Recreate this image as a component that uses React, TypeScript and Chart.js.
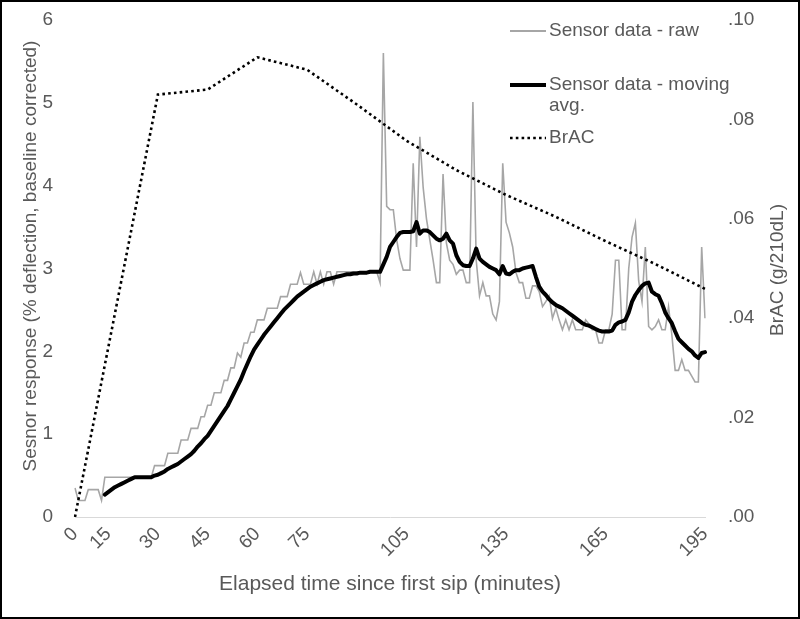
import React, { useEffect, useRef } from 'react';
import { Chart, registerables } from 'chart.js';

Chart.register(...registerables);

// Category times (minutes). First 15 min sampled every 1.5 min, then every minute.
const earlyTimes = [0, 1.5, 3, 4.5, 6, 7.5, 9, 10.5, 12, 13.5];
const lateTimes: number[] = [];
for (let m = 15; m <= 195; m++) lateTimes.push(m);
const times = [...earlyTimes, ...lateTimes];

const shownTicks = [0, 15, 30, 45, 60, 75, 105, 135, 165, 195];

// Sensor data - raw (one value per category)
const rawValues = [
  0.35, 0.20, 0.20, 0.20, 0.33, 0.33, 0.33, 0.33, 0.20, 0.48, // 0-9
  0.48, 0.48, 0.48, 0.48, 0.48, 0.48, 0.48, 0.48, 0.48, 0.48, // 10-19
  0.48, 0.48, 0.48, 0.48, 0.62, 0.62, 0.62, 0.62, 0.77, 0.77, // 20-29
  0.77, 0.77, 0.93, 0.93, 0.93, 1.07, 1.07, 1.07, 1.21, 1.21, // 30-39
  1.35, 1.35, 1.50, 1.50, 1.50, 1.65, 1.65, 1.80, 1.80, 1.98, // 40-49
  1.93, 2.10, 2.10, 2.23, 2.23, 2.38, 2.38, 2.38, 2.52, 2.52, // 50-59
  2.52, 2.52, 2.66, 2.66, 2.66, 2.81, 2.81, 2.81, 2.95, 2.81, // 60-69
  2.81, 2.81, 2.96, 2.81, 2.96, 2.81, 2.96, 2.96, 2.81, 2.96, // 70-79
  2.96, 2.96, 2.96, 2.96, 2.96, 2.96, 2.96, 2.96, 2.96, 2.96, // 80-89
  2.96, 2.96, 2.83, 5.60, 3.75, 3.71, 3.71, 3.35, 3.12, 2.98, // 90-99
  2.98, 2.98, 4.27, 3.26, 4.59, 3.98, 3.60, 3.35, 3.10, 2.83, // 100-109
  2.83, 4.14, 3.31, 3.10, 3.05, 2.93, 2.98, 2.98, 2.83, 2.83, // 110-119
  5.01, 3.10, 2.67, 2.83, 2.67, 2.67, 2.45, 2.38, 2.60, 4.27, // 120-129
  3.56, 3.43, 3.26, 2.95, 2.83, 2.83, 2.64, 2.64, 2.79, 2.79, // 130-139
  2.72, 2.54, 2.60, 2.67, 2.40, 2.52, 2.38, 2.26, 2.38, 2.26, // 140-149
  2.38, 2.26, 2.26, 2.26, 2.38, 2.33, 2.26, 2.26, 2.10, 2.10, // 150-159
  2.26, 2.26, 2.45, 3.10, 3.10, 2.26, 2.26, 3.00, 3.38, 3.55, // 160-169
  2.85, 2.60, 3.26, 2.30, 2.26, 2.30, 2.38, 2.26, 2.26, 2.54, // 170-179
  2.20, 1.77, 1.77, 1.90, 1.77, 1.77, 1.70, 1.63, 1.63, 3.26, // 180-189
  2.40, // 190
];

// Sensor data - moving average
const movingAvgValues: (number | null)[] = [
  null, null, null, null, null, null, null, null, null, 0.27, // 0-9
  0.30, 0.33, 0.36, 0.38, 0.40, 0.42, 0.44, 0.46, 0.48, 0.48, // 10-19
  0.48, 0.48, 0.48, 0.48, 0.50, 0.51, 0.53, 0.55, 0.58, 0.60, // 20-29
  0.62, 0.64, 0.67, 0.70, 0.73, 0.76, 0.80, 0.85, 0.89, 0.94, // 30-39
  0.98, 1.04, 1.10, 1.16, 1.22, 1.28, 1.34, 1.42, 1.50, 1.58, // 40-49
  1.66, 1.76, 1.85, 1.94, 2.02, 2.08, 2.14, 2.20, 2.25, 2.30, // 50-59
  2.35, 2.40, 2.45, 2.50, 2.54, 2.58, 2.62, 2.66, 2.69, 2.72, // 60-69
  2.75, 2.78, 2.80, 2.82, 2.84, 2.86, 2.87, 2.88, 2.89, 2.90, // 70-79
  2.91, 2.92, 2.93, 2.93, 2.94, 2.94, 2.95, 2.95, 2.95, 2.96, // 80-89
  2.96, 2.96, 2.96, 3.05, 3.14, 3.26, 3.32, 3.38, 3.43, 3.44, // 90-99
  3.44, 3.44, 3.45, 3.56, 3.42, 3.46, 3.46, 3.44, 3.40, 3.36, // 100-109
  3.34, 3.36, 3.42, 3.34, 3.30, 3.16, 3.08, 3.04, 3.03, 3.03, // 110-119
  3.12, 3.24, 3.12, 3.08, 3.05, 3.02, 3.00, 2.98, 2.93, 3.03, // 120-129
  2.94, 2.93, 2.96, 2.98, 2.98, 3.00, 3.01, 3.02, 3.03, 2.90, // 130-139
  2.78, 2.72, 2.68, 2.63, 2.59, 2.56, 2.54, 2.52, 2.49, 2.46, // 140-149
  2.43, 2.40, 2.37, 2.34, 2.32, 2.31, 2.29, 2.27, 2.25, 2.24, // 150-159
  2.24, 2.24, 2.25, 2.32, 2.35, 2.36, 2.38, 2.47, 2.60, 2.68, // 160-169
  2.74, 2.79, 2.82, 2.83, 2.72, 2.69, 2.67, 2.58, 2.47, 2.40, // 170-179
  2.34, 2.24, 2.15, 2.11, 2.07, 2.03, 2.00, 1.95, 1.92, 1.98, // 180-189
  1.99, // 190
];

// BrAC measurements
const bracTimes = [0, 30, 45, 60, 75, 90, 105, 120, 135, 150, 165, 180, 195];
const bracValues = [0, 0.085, 0.086, 0.0925, 0.09, 0.083, 0.0757, 0.0698, 0.0648, 0.0604, 0.0555, 0.0509, 0.0459];

const FONT = '"Liberation Sans", Arial, sans-serif';
const TEXT = '#595959';
const RAW_COLOR = '#A6A6A6';

export default function App() {
  const canvasRef = useRef<HTMLCanvasElement | null>(null);

  useEffect(() => {
    if (!canvasRef.current) return;
    const bracData = times.map((t) => {
      const i = bracTimes.indexOf(t);
      return i >= 0 ? bracValues[i] : null;
    });

    const customDraw = {
      id: 'customDraw',
      afterDraw(chart: any) {
        const ctx = chart.ctx as CanvasRenderingContext2D;
        ctx.save();
        ctx.fillStyle = TEXT;
        ctx.font = `19px ${FONT}`;
        ctx.textAlign = 'center';
        ctx.textBaseline = 'middle';
        ctx.save();
        ctx.translate(31, 256);
        ctx.rotate(-Math.PI / 2);
        ctx.fillText('Sesnor response (% deflection, baseline corrected)', 0, 0);
        ctx.restore();
        ctx.save();
        ctx.translate(778, 270);
        ctx.rotate(-Math.PI / 2);
        ctx.fillText('BrAC (g/210dL)', 0, 0);
        ctx.restore();

        // legend
        const items = [
          { lines: ['Sensor data - raw'], y: 31, color: RAW_COLOR, width: 2, dash: [] as number[] },
          { lines: ['Sensor data - moving', 'avg.'], y: 85, color: '#000', width: 4, dash: [] as number[] },
          { lines: ['BrAC'], y: 138, color: '#000', width: 2.6, dash: [2.6, 3.2] },
        ];
        ctx.textAlign = 'left';
        for (const it of items) {
          ctx.beginPath();
          ctx.strokeStyle = it.color;
          ctx.lineWidth = it.width;
          ctx.setLineDash(it.dash);
          ctx.moveTo(510, it.y);
          ctx.lineTo(546, it.y);
          ctx.stroke();
          ctx.setLineDash([]);
          it.lines.forEach((ln, k) => ctx.fillText(ln, 549, it.y + k * 21));
        }
        ctx.restore();
      },
    };

    const fixVertical = (width: number) => (s: any) => {
      s.width = width;
      s.paddingTop = 0;
      s.paddingBottom = 0;
    };

    const chart = new Chart(canvasRef.current, {
      type: 'line',
      data: {
        labels: times.map(String),
        datasets: [
          {
            label: 'Sensor data - raw',
            data: rawValues,
            borderColor: RAW_COLOR,
            borderWidth: 1.6,
            pointRadius: 0,
            tension: 0,
            yAxisID: 'y',
            order: 3,
          },
          {
            label: 'Sensor data - moving avg.',
            data: movingAvgValues,
            borderColor: '#000000',
            borderWidth: 4,
            borderJoinStyle: 'round',
            borderCapStyle: 'round',
            pointRadius: 0,
            tension: 0,
            yAxisID: 'y',
            order: 2,
          },
          {
            label: 'BrAC',
            data: bracData,
            borderColor: '#000000',
            borderWidth: 2.6,
            borderDash: [2.6, 3.2],
            spanGaps: true,
            pointRadius: 0,
            tension: 0,
            yAxisID: 'y2',
            order: 1,
          },
        ],
      },
      options: {
        animation: false,
        responsive: false,
        maintainAspectRatio: false,
        layout: { padding: { top: 20, left: 0, right: 0, bottom: 0 } },
        plugins: {
          legend: { display: false },
          tooltip: { enabled: false },
        },
        scales: {
          x: {
            type: 'category',
            offset: false,
            grid: { display: false, drawTicks: false },
            border: { display: true, color: '#D9D9D9', width: 1 },
            ticks: {
              autoSkip: false,
              minRotation: 45,
              maxRotation: 45,
              padding: 6,
              color: TEXT,
              font: { family: FONT, size: 19 },
              callback: (_v: any, idx: number) => (shownTicks.includes(times[idx]) ? String(times[idx]) : ''),
            },
            title: {
              display: true,
              text: 'Elapsed time since first sip (minutes)',
              color: TEXT,
              font: { family: FONT, size: 21 },
              padding: { top: 0, bottom: 22 },
            },
            afterFit: (s: any) => {
              s.height = 102;
            },
          },
          y: {
            position: 'left',
            min: 0,
            max: 6,
            grid: { display: false, drawTicks: false },
            border: { display: false },
            ticks: {
              stepSize: 1,
              padding: 22,
              color: TEXT,
              font: { family: FONT, size: 19 },
            },
            afterFit: fixVertical(75),
          },
          y2: {
            position: 'right',
            min: 0,
            max: 0.1,
            grid: { display: false, drawTicks: false },
            border: { display: false },
            ticks: {
              stepSize: 0.02,
              padding: 23,
              color: TEXT,
              font: { family: FONT, size: 19 },
              callback: (v: any) => Number(v).toFixed(2).replace(/^0/, ''),
            },
            afterFit: fixVertical(95),
          },
        },
      },
      plugins: [customDraw],
    });
    return () => chart.destroy();
  }, []);

  return (
    <div style={{ position: 'fixed', left: 0, top: 0, width: 800, height: 619, background: '#fff' }}>
      <canvas ref={canvasRef} width={800} height={619} style={{ display: 'block', width: 800, height: 619 }} />
      <div
        style={{
          position: 'absolute',
          left: 0,
          top: 0,
          width: 800,
          height: 619,
          border: '2px solid #000',
          boxSizing: 'border-box',
          pointerEvents: 'none',
        }}
      />
    </div>
  );
}
